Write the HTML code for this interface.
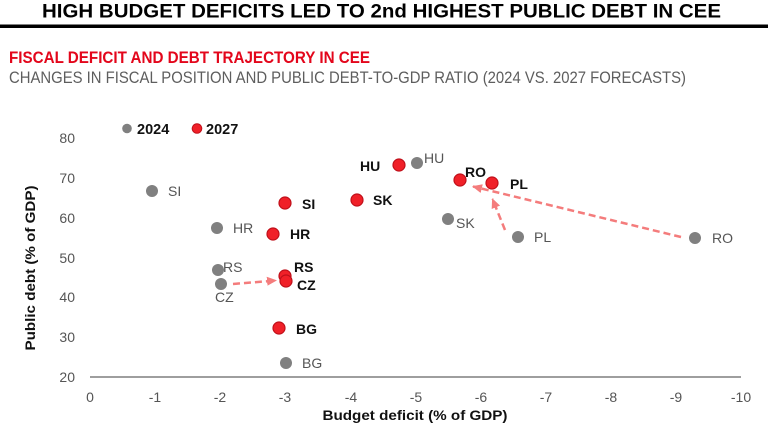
<!DOCTYPE html>
<html><head><meta charset="utf-8"><style>
html,body{margin:0;padding:0;background:#fff;}
svg{display:block;}
text{font-family:"Liberation Sans",Arial,sans-serif;}
</style></head><body>
<svg width="768" height="429" viewBox="0 0 768 429" xmlns="http://www.w3.org/2000/svg">
<defs>
<marker id="ah" markerWidth="10" markerHeight="10" refX="9" refY="5" orient="auto" markerUnits="userSpaceOnUse">
<path d="M0,0.5 L10,5 L0,9.5 Z" fill="#f47c7c"/>
</marker>
</defs>
<text x="42" y="17.5" font-size="19.5" font-weight="bold" fill="#000" textLength="679" lengthAdjust="spacingAndGlyphs">HIGH BUDGET DEFICITS LED TO 2nd HIGHEST PUBLIC DEBT IN CEE</text>
<rect x="0" y="24.5" width="768" height="3.5" fill="#000"/>
<text x="9" y="63" font-size="16.5" font-weight="bold" fill="#e3061b" textLength="361" lengthAdjust="spacingAndGlyphs">FISCAL DEFICIT AND DEBT TRAJECTORY IN CEE</text>
<text x="9" y="83" font-size="17" fill="#5e5e5e" textLength="677" lengthAdjust="spacingAndGlyphs">CHANGES IN FISCAL POSITION AND PUBLIC DEBT-TO-GDP RATIO (2024 VS. 2027 FORECASTS)</text>

<!-- axis -->
<line x1="90" y1="377" x2="741" y2="377" stroke="#7f7f7f" stroke-width="1.5"/>
<g font-size="14" fill="#555" text-anchor="end">
<text x="75" y="143">80</text>
<text x="75" y="183">70</text>
<text x="75" y="223">60</text>
<text x="75" y="263">50</text>
<text x="75" y="302">40</text>
<text x="75" y="342">30</text>
<text x="75" y="382">20</text>
</g>
<g font-size="14" fill="#555" text-anchor="middle">
<text x="90" y="402">0</text>
<text x="155" y="402">-1</text>
<text x="220" y="402">-2</text>
<text x="285" y="402">-3</text>
<text x="351" y="402">-4</text>
<text x="416" y="402">-5</text>
<text x="481" y="402">-6</text>
<text x="546" y="402">-7</text>
<text x="611" y="402">-8</text>
<text x="676" y="402">-9</text>
<text x="741" y="402">-10</text>
</g>
<text x="415" y="420" font-size="13.5" font-weight="bold" fill="#111" text-anchor="middle" textLength="185" lengthAdjust="spacingAndGlyphs">Budget deficit (% of GDP)</text>
<text x="0" y="0" font-size="13.5" font-weight="bold" fill="#111" text-anchor="middle" transform="translate(35,268) rotate(-90)" textLength="165" lengthAdjust="spacingAndGlyphs">Public debt (% of GDP)</text>

<!-- legend -->
<circle cx="127" cy="128.5" r="4.8" fill="#808080"/>
<text x="137" y="134" font-size="14.5" font-weight="bold" fill="#111">2024</text>
<circle cx="197" cy="128.5" r="4.8" fill="#f02028" stroke="#c0101a" stroke-width="1"/>
<text x="206" y="134" font-size="14.5" font-weight="bold" fill="#111">2027</text>

<!-- arrows -->
<g stroke="#f47c7c" stroke-width="2.5" stroke-dasharray="7,4" fill="none">
<line x1="233" y1="284" x2="276" y2="280.5" marker-end="url(#ah)"/>
<line x1="681" y1="237" x2="473" y2="186.5" marker-end="url(#ah)"/>
<line x1="505" y1="230" x2="492.5" y2="199" marker-end="url(#ah)"/>
</g>

<!-- gray points 2024 -->
<g fill="#808080">
<circle cx="152" cy="191" r="6"/>
<circle cx="217" cy="228" r="6"/>
<circle cx="218" cy="270" r="6"/>
<circle cx="221" cy="284" r="6"/>
<circle cx="286" cy="363" r="6"/>
<circle cx="417" cy="163" r="6"/>
<circle cx="448" cy="219" r="6"/>
<circle cx="518" cy="237" r="6"/>
<circle cx="695" cy="238" r="6"/>
</g>
<!-- red points 2027 -->
<g fill="#f02028" stroke="#c0101a" stroke-width="1.2">
<circle cx="285" cy="203" r="6"/>
<circle cx="273" cy="234" r="6"/>
<circle cx="285" cy="276" r="6"/>
<circle cx="286" cy="281" r="6"/>
<circle cx="279" cy="328" r="6"/>
<circle cx="399" cy="165" r="6"/>
<circle cx="357" cy="200" r="6"/>
<circle cx="460" cy="180" r="6"/>
<circle cx="492" cy="183" r="6"/>
</g>

<!-- gray labels -->
<g font-size="14" fill="#555">
<text x="168" y="196">SI</text>
<text x="233" y="233">HR</text>
<text x="223" y="272">RS</text>
<text x="215" y="302">CZ</text>
<text x="302" y="368">BG</text>
<text x="424" y="163">HU</text>
<text x="456" y="228">SK</text>
<text x="534" y="242">PL</text>
<text x="712" y="243">RO</text>
</g>
<!-- bold labels -->
<g font-size="14" font-weight="bold" fill="#111">
<text x="302" y="209">SI</text>
<text x="290" y="239">HR</text>
<text x="294" y="272">RS</text>
<text x="297" y="290">CZ</text>
<text x="296" y="334">BG</text>
<text x="360" y="171">HU</text>
<text x="373" y="205">SK</text>
<text x="465" y="177">RO</text>
<text x="510" y="189">PL</text>
</g>
</svg>
</body></html>
